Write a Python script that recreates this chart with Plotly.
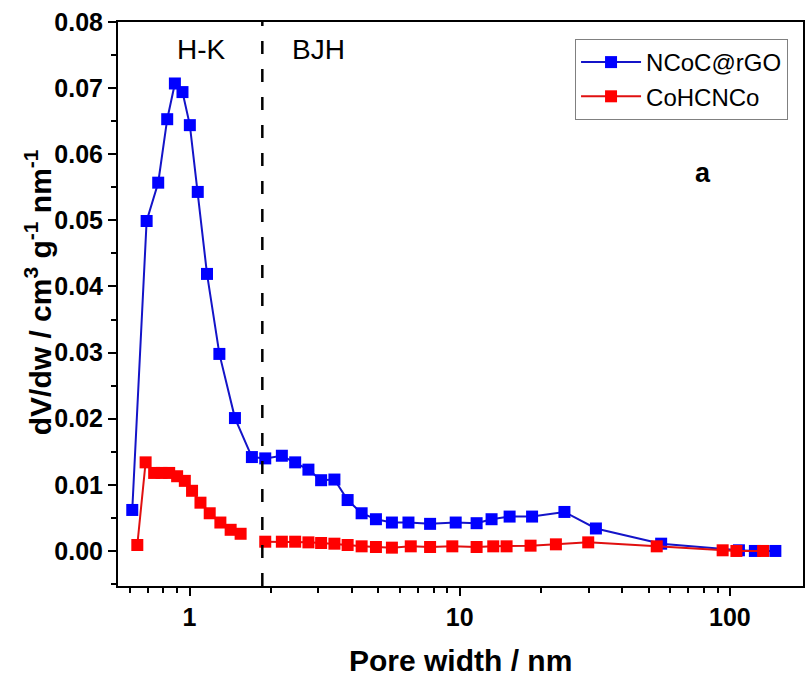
import plotly.graph_objects as go

# ---- data ----
blue_hk_w = [0.614, 0.694, 0.766, 0.827, 0.883, 0.942, 1.003, 1.073, 1.161, 1.290, 1.473, 1.702]
blue_hk_v = [0.0062, 0.0499, 0.0557, 0.0653, 0.0707, 0.0694, 0.0644, 0.0543, 0.0419, 0.0298, 0.0201, 0.0142]
blue_bjh_w = [1.907, 2.197, 2.461, 2.755, 3.07, 3.438, 3.848, 4.335, 4.898, 5.612, 6.462, 7.77,
              9.665, 11.55, 13.12, 15.30, 18.53, 24.41, 31.92, 55.66, 108.0, 123.7, 147.3]
blue_bjh_v = [0.0140, 0.0144, 0.0134, 0.0123, 0.0107, 0.0108, 0.0077, 0.0057, 0.0048, 0.0043, 0.0043, 0.0041,
              0.0043, 0.0042, 0.0048, 0.0052, 0.0052, 0.0059, 0.0034, 0.0011, 0.0001, 0.0, 0.0]

red_hk_w = [0.641, 0.688, 0.740, 0.788, 0.841, 0.900, 0.961, 1.022, 1.098, 1.188, 1.301, 1.420, 1.546]
red_hk_v = [0.0009, 0.0134, 0.0118, 0.0118, 0.0118, 0.0113, 0.0106, 0.0091, 0.0073, 0.0057, 0.0043, 0.0032, 0.0026]
red_bjh_w = [1.907, 2.197, 2.461, 2.755, 3.07, 3.438, 3.848, 4.335, 4.898, 5.612, 6.59, 7.77,
             9.39, 11.55, 13.31, 14.91, 18.29, 22.7, 29.9, 53.6, 94.0, 105.7, 132.7]
red_bjh_v = [0.0014, 0.0014, 0.0014, 0.0013, 0.0012, 0.0011, 0.0009, 0.0007, 0.0006, 0.0005, 0.0007, 0.0006,
             0.0007, 0.0006, 0.0007, 0.0007, 0.0008, 0.0010, 0.0013, 0.0007, 0.0001, 0.0, 0.0]

series_names = ["NCoC@rGO", "CoHCNCo"]
boundary_w = 1.86
y_ticks = [0.00, 0.01, 0.02, 0.03, 0.04, 0.05, 0.06, 0.07, 0.08]
x_ticks = [1, 10, 100]
x_minor = [0.6, 0.7, 0.8, 0.9, 2, 3, 4, 5, 6, 7, 8, 9, 20, 30, 40, 50, 60, 70, 80, 90]

FONT = "Liberation Sans, Arial, sans-serif"

fig = go.Figure()
fig.add_trace(go.Scatter(
    x=blue_hk_w + blue_bjh_w, y=blue_hk_v + blue_bjh_v,
    mode="lines+markers", name=series_names[0],
    line=dict(color="#1414c8", width=2),
    marker=dict(symbol="square", size=12, color="#0000ff"),
))
fig.add_trace(go.Scatter(
    x=red_hk_w + [None] + red_bjh_w, y=red_hk_v + [None] + red_bjh_v,
    mode="lines+markers", name=series_names[1], connectgaps=False,
    line=dict(color="#e01010", width=2),
    marker=dict(symbol="square", size=12, color="#ff0000"),
))

fig.add_shape(type="line", xref="x", yref="paper", x0=boundary_w, x1=boundary_w, y0=0, y1=1,
              line=dict(color="black", width=2.5, dash="13px,15px"))

# plot area: left 118, right 805, top 22, bottom 586 (page pixels)
def px(xp):
    return (xp - 118) / 687.0
def py(yp):
    return (586 - yp) / 564.0

fig.add_annotation(x=px(202), y=py(50), xref="paper", yref="paper", text="H-K", showarrow=False,
                   font=dict(family=FONT, size=28, color="black"), xanchor="center", yanchor="middle")
fig.add_annotation(x=px(319), y=py(50), xref="paper", yref="paper", text="BJH", showarrow=False,
                   font=dict(family=FONT, size=28, color="black"), xanchor="center", yanchor="middle")
fig.add_annotation(x=px(705), y=py(173), xref="paper", yref="paper", text="<b>a</b>", showarrow=False,
                   font=dict(family=FONT, size=27, color="black"), xanchor="center", yanchor="middle")

fig.add_annotation(x=px(38), y=py(292), xref="paper", yref="paper",
                   text="<b>dV/dw / cm<sup>3</sup> g<sup>-1</sup> nm<sup>-1</sup></b>",
                   textangle=-90, showarrow=False, font=dict(family=FONT, size=30, color="black"),
                   xanchor="center", yanchor="middle")
fig.add_annotation(x=px(461), y=py(661), xref="paper", yref="paper", text="<b>Pore width / nm</b>",
                   showarrow=False, font=dict(family=FONT, size=30, color="black"),
                   xanchor="center", yanchor="middle")

fig.update_layout(
    width=810, height=676,
    margin=dict(l=118, r=5, t=22, b=90),
    paper_bgcolor="white", plot_bgcolor="white",
    showlegend=True,
    legend=dict(x=px(790), y=py(39), xanchor="right", yanchor="top",
                bgcolor="white", bordercolor="#808080", borderwidth=1,
                font=dict(family=FONT, size=24, color="black"), itemwidth=60,
                tracegroupgap=0),
    font=dict(family=FONT, color="black"),
)
fig.update_xaxes(
    type="log", range=[-0.2646, 2.2705],
    tickvals=x_ticks, ticktext=[str(t) for t in x_ticks],
    ticks="outside", ticklen=8, tickwidth=2, tickcolor="black",
    showline=True, linecolor="black", linewidth=2, mirror=True,
    showgrid=False, zeroline=False,
    tickfont=dict(family=FONT, size=25, color="black", weight="bold"),
    minor=dict(tickvals=x_minor, ticks="outside", ticklen=5, tickwidth=2, tickcolor="black", showgrid=False),
)
fig.update_yaxes(
    range=[-0.0053, 0.08],
    tickvals=y_ticks, ticktext=[f"{t:.2f}" for t in y_ticks],
    ticks="outside", ticklen=8, tickwidth=2, tickcolor="black",
    showline=True, linecolor="black", linewidth=2, mirror=True,
    showgrid=False, zeroline=False,
    tickfont=dict(family=FONT, size=25, color="black", weight="bold"),
    minor=dict(dtick=0.005, tick0=0, ticks="outside", ticklen=5, tickwidth=2, tickcolor="black", showgrid=False),
)

fig.write_html("out.html", config={"displayModeBar": False},
               post_script="document.body.style.margin='0';document.body.style.overflow='hidden';")
